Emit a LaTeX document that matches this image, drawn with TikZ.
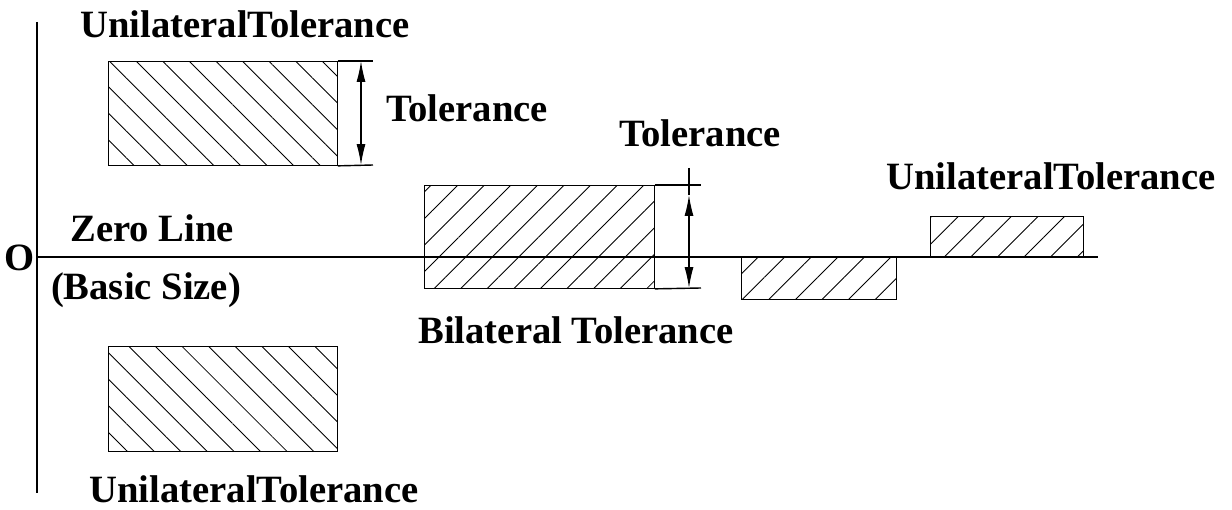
\documentclass[tikz,border=0pt]{standalone}
\usepackage{fontspec}
\setmainfont{Liberation Serif}
\usepackage{tikz}
\usetikzlibrary{arrows.meta,positioning,patterns.meta}

\begin{document}
\begin{tikzpicture}[x=0.02cm,y=-0.02cm,
  every node/.style={font=\fontsize{22}{25}\selectfont\bfseries},
  zone/.style={draw,line width=0.8pt,inner sep=0pt,anchor=north west},
  downhatch/.style={zone,pattern={Lines[angle=-45,distance=10.7pt,line width=0.5pt]}},
  uphatch/.style={zone,pattern={Lines[angle=45,distance=10.7pt,line width=0.5pt]}},
  dimarrow/.style={{Latex[length=0.42cm,width=0.18cm]}-{Latex[length=0.42cm,width=0.18cm]},line width=0.7pt}]
  \useasboundingbox (0,0) rectangle (1232,510);
  % axes
  \coordinate (axtop) at (37,22);
  \coordinate (axbot) at (37,493);
  \coordinate (zl) at (37,257);
  \coordinate (zr) at (1098,257);
  \draw[line width=0.8pt] (axtop) -- (axbot);
  \draw[line width=0.8pt] (zl) -- (zr);
  \node (o) at (20,258) {O};
  \node (zero) at (152,228) {Zero Line};
  \node (basic) at (146,290) {(Basic Size)};
  % zones
  \node[downhatch,minimum width=4.58cm,minimum height=2.08cm] (upper) at (108,61) {};
  \node[downhatch,minimum width=4.58cm,minimum height=2.10cm] (lower) at (108,346) {};
  \node[uphatch,minimum width=4.60cm,minimum height=2.06cm] (bil) at (424,185) {};
  \node[uphatch,minimum width=3.10cm,minimum height=0.84cm] (below) at (741,257) {};
  \node[uphatch,minimum width=3.06cm,minimum height=0.82cm] (above) at (930,216) {};
  % dimension lines
  \coordinate (uT) at (373,61);
  \coordinate (uB) at (373,165);
  \coordinate (uTa) at (361,61);
  \coordinate (uBa) at (361,165);
  \draw[line width=0.8pt] (upper.north east) -- (uT);
  \draw[line width=0.8pt] (upper.south east) -- (uB);
  \draw[dimarrow] (uTa) -- (uBa);
  \coordinate (bT) at (701,185);
  \coordinate (bB) at (701,288);
  \coordinate (bTop) at (689,168);
  \coordinate (bTa) at (689,195);
  \coordinate (bBa) at (689,288);
  \draw[line width=0.8pt] (bil.north east) -- (bT);
  \draw[line width=0.8pt] (bil.south east) -- (bB);
  \draw[line width=0.7pt] (bTop) -- (bTa);
  \draw[dimarrow] (bTa) -- (bBa);
  % labels
  \node (lbl1) at (245,24) {UnilateralTolerance};
  \node[anchor=west] (tol1) at (380,108) {Tolerance};
  \node (tol2) at (700,133) {Tolerance};
  \node (lbl2) at (576,330) {Bilateral Tolerance};
  \node (lbl3) at (1051,176) {UnilateralTolerance};
  \node (lbl4) at (254,489) {UnilateralTolerance};
\end{tikzpicture}
\end{document}
